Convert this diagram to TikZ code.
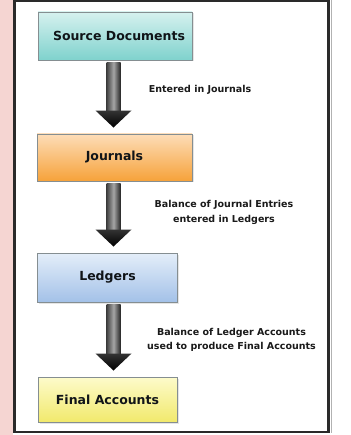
\documentclass[tikz,border=0pt]{standalone}
\usepackage{fontspec}
\setmainfont{DejaVu Sans}
\usetikzlibrary{calc,shadows}
\definecolor{pinkbg}{HTML}{F5D5D2}
\definecolor{framec}{HTML}{2A2A2A}
\definecolor{boxline}{HTML}{858E91}
\definecolor{tealtop}{HTML}{D6F1EF}
\definecolor{tealbot}{HTML}{7FD2CD}
\definecolor{orgtop}{HTML}{FDDDB8}
\definecolor{orgbot}{HTML}{F6A23A}
\definecolor{blutop}{HTML}{E4EEF9}
\definecolor{blubot}{HTML}{A3C1E8}
\definecolor{yeltop}{HTML}{FDFBCB}
\definecolor{yelbot}{HTML}{F1E96C}
\definecolor{txtc}{HTML}{101418}
\definecolor{lbltxt}{HTML}{1A1A1A}
\tikzset{
  stagebox/.style={draw=boxline, line width=0.9pt, minimum height=48pt,
    inner sep=0pt, font=\fontsize{12.5}{14}\selectfont\bfseries, text=txtc,
    drop shadow={opacity=0.2, shadow xshift=1.5pt, shadow yshift=-1.5pt}},
  flowlabel/.style={font=\fontsize{9.5}{14.5}\selectfont\bfseries, text=lbltxt,
    align=center, inner sep=0pt},
  shaftstyle/.style={left color=black!75, right color=black!85, middle color=black!35},
  headstyle/.style={top color=black!80, bottom color=black},
}
\newcommand\flowarrow[2]{%
  \shade[shaftstyle] ($(#1.south -| ax)+(-7,2.5)$) rectangle ($(#2.north -| ax)+(7,-22)$);
  \shade[headstyle] ($(#2.north -| ax)+(-18,-23)$) -- ($(#2.north -| ax)+(18,-23)$)
     -- ($(#2.north -| ax)+(0,-6)$) -- cycle;}
\begin{document}
\begin{tikzpicture}[x=1pt,y=-1pt]
\useasboundingbox (0,0) rectangle (350,435);
\fill[white] (0,0) rectangle (350,435);
\fill[pinkbg] (0,0) rectangle (13,435);
\draw[black!30, line width=1pt] (331,0) -- (331,433);
\draw[framec, line width=2.6pt] (14.5,1.2) rectangle (328.7,431.8);
\coordinate (ax) at (113.5,0);
\node[stagebox, minimum width=154pt, top color=tealtop, bottom color=tealbot] (src) at (115,36) {\hspace*{8pt}Source Documents};
\node[stagebox, minimum width=155pt, minimum height=47pt, top color=orgtop, bottom color=orgbot] (jrn) at (114.5,157.5) {Journals};
\node[stagebox, minimum width=140pt, minimum height=49pt, top color=blutop, bottom color=blubot] (ldg) at (107.5,277.5) {Ledgers};
\node[stagebox, minimum width=139pt, minimum height=45pt, top color=yeltop, bottom color=yelbot] (fin) at (107.5,399.5) {Final Accounts};
\flowarrow{src}{jrn}
\flowarrow{jrn}{ldg}
\flowarrow{ldg}{fin}
\node[flowlabel] (l1) at (200,90) {Entered in Journals};
\node[flowlabel] (l2) at (224,212.5) {Balance of Journal Entries\\entered in Ledgers};
\node[flowlabel] (l3) at (231.5,340) {Balance of Ledger Accounts\\used to produce Final Accounts};
\end{tikzpicture}
\end{document}
